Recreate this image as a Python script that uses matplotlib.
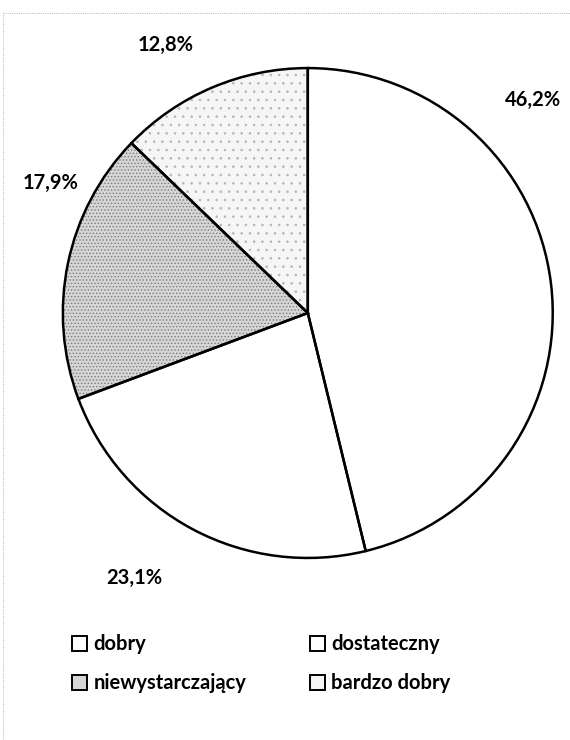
import matplotlib.pyplot as plt
from matplotlib.patches import Patch

plt.rcParams['font.family'] = ['Lato', 'DejaVu Sans']
plt.rcParams['hatch.linewidth'] = 0.6

categories = ['dobry', 'dostateczny', 'niewystarczający', 'bardzo dobry']
values = [46.2, 23.1, 17.9, 12.8]
pct_labels = ['46,2%', '23,1%', '17,9%', '12,8%']
colors = ['white', 'white', '#d6d6d6', '#f6f6f6']
hatches = ['', '', '.....', '..']
hatch_colors = ['white', 'white', '#7a7a7a', '#b5b5b5']

# label positions (data units, radius = 1), placed like the Excel "best fit"
label_pos = [(0.92, 0.87), (-0.71, -1.08), (-1.05, 0.53), (-0.58, 1.095)]

fig = plt.figure(figsize=(5.7, 7.4), dpi=100)
ax = fig.add_axes([0.110, 0.246, 0.860, 0.662])

ax.pie(values, colors=colors, startangle=90, counterclock=False,
       radius=1.0, wedgeprops=dict(edgecolor='none', linewidth=0))
# dotted texture on the grey slices
tex, _ = ax.pie(values, startangle=90, counterclock=False, radius=1.0,
                wedgeprops=dict(fill=False, linewidth=0))
for w, h, hc in zip(tex, hatches, hatch_colors):
    w.set_hatch(h)
    w.set_edgecolor(hc)
# black outlines on top
ax.pie(values, startangle=90, counterclock=False, radius=1.0,
       wedgeprops=dict(fill=False, edgecolor='black', linewidth=1.8))
ax.set_xlim(-1, 1)
ax.set_ylim(-1, 1)
ax.set_aspect('equal')
ax.axis('off')

for txt, (x, y) in zip(pct_labels, label_pos):
    ax.text(x, y, txt, ha='center', va='center', fontsize=14.5, fontweight='bold')

# legend, two columns filled row by row
handles = [Patch(facecolor=c, edgecolor='black', linewidth=1.4) for c in colors]
order = [0, 2, 1, 3]
fig.legend([handles[i] for i in order], [categories[i] for i in order],
           ncol=2, loc='center left', bbox_to_anchor=(0.095, 0.103), frameon=False,
           prop={'weight': 'bold', 'size': 14.5},
           handlelength=0.75, handleheight=0.75, handletextpad=0.3,
           columnspacing=3.15, labelspacing=0.95)

# thin dotted frame at the top and left, as in the scanned page
fig.add_artist(plt.Line2D([0.005, 1.0], [0.982, 0.982], color='#999999',
                          linewidth=0.6, linestyle=':'))
fig.add_artist(plt.Line2D([0.005, 0.005], [0.0, 0.982], color='#999999',
                          linewidth=0.6, linestyle=':'))

fig.savefig('out.png', dpi=100)
